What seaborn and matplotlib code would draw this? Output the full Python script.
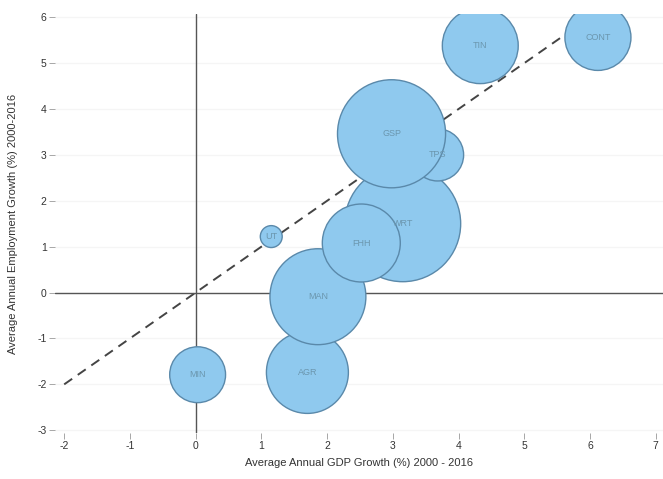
import numpy as np
import pandas as pd
import matplotlib
matplotlib.use("Agg")
import matplotlib.pyplot as plt
import seaborn as sns

# sector data
sectors = ['AGR', 'MAN', 'UT', 'MIN', 'WRT', 'FHH', 'TPS', 'GSP', 'TIN', 'CONT']
gdp_growth = [1.70, 1.86, 1.15, 0.03, 3.15, 2.52, 3.68, 2.98, 4.33, 6.12]
emp_growth = [-1.74, -0.09, 1.22, -1.79, 1.50, 1.08, 3.00, 3.46, 5.38, 5.56]
weight = [16.8, 23.0, 1.2, 7.8, 33.6, 15.2, 6.8, 29.2, 14.4, 10.9]

df = pd.DataFrame({'sector': sectors, 'gdp': gdp_growth,
                   'emp': emp_growth, 'w': weight})

sns.set_theme(style='white')
plt.rcParams['font.family'] = ['Liberation Sans', 'DejaVu Sans']
plt.rcParams['axes.unicode_minus'] = False

fig = plt.figure(figsize=(6.63, 4.79), dpi=100)
ax = fig.add_axes([55 / 663, 46 / 479, 608 / 663, 419 / 479])

# very faint horizontal grid
for yv in range(-3, 7):
    ax.axhline(yv, color='#f5f5f5', lw=1.0, zorder=0)

# 45 degree reference line
ref = np.array([-2, 6])
ax.plot(ref, ref, ls=(0, (5, 3.5)), color='#444444', lw=1.4, zorder=1)

# zero axes
ax.axhline(0, color='#555555', lw=1.0, zorder=1)
ax.axvline(0, color='#555555', lw=1.0, zorder=1)

smax = 207.36 * 40
sns.scatterplot(data=df, x='gdp', y='emp', size='w', sizes=(0, smax),
                size_norm=(0, 40), color='#8fc9ee', edgecolor='#5a89aa',
                linewidth=1.0, alpha=1, legend=False, ax=ax, zorder=2)

for s, x, y in zip(sectors, gdp_growth, emp_growth):
    ax.text(x, y, s, ha='center', va='center', fontsize=6.5,
            color='#6b96ae', zorder=3)

ax.set_xlim(-2.14, 7.11)
ax.set_ylim(-3.06, 6.07)
ax.set_xticks(range(-2, 8))
ax.set_yticks(range(-3, 7))
for sp in ax.spines.values():
    sp.set_visible(False)
ax.tick_params(axis='both', which='both', length=4, width=0.6,
               color='#999999', labelsize=7.5, labelcolor='#333333', pad=2,
               left=True, bottom=True)
ax.set_xlabel('Average Annual GDP Growth (%) 2000 - 2016', fontsize=8,
              color='#333333', labelpad=5)
ax.set_ylabel('Average Annual Employment Growth (%) 2000-2016', fontsize=8,
              color='#333333', labelpad=14)

fig.savefig('out.png', dpi=100)
